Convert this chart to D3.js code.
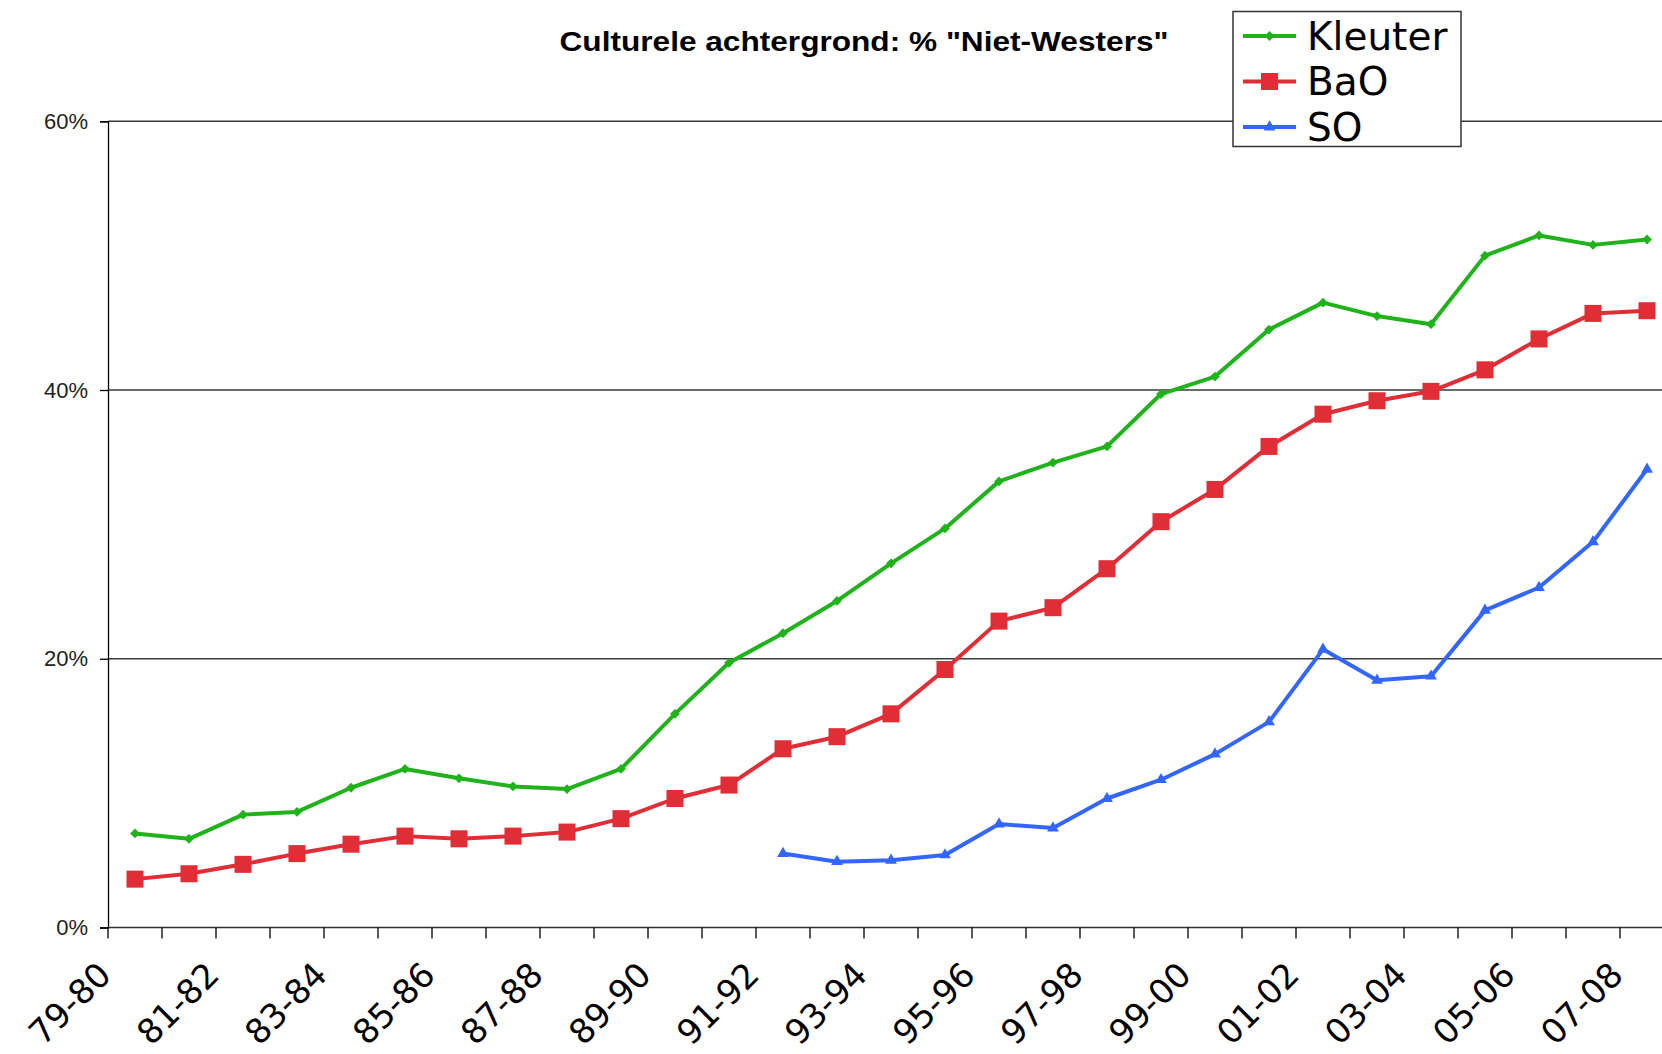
<!DOCTYPE html>
<html>
<head>
<meta charset="utf-8">
<script src="https://cdnjs.cloudflare.com/ajax/libs/d3/7.8.5/d3.min.js"></script>
<style>
  body { margin: 0; background: #fff; }
  svg { display: block; }
</style>
</head>
<body>
<div id="main"></div>
<script>
// school years on the x axis
const years = ["79-80","80-81","81-82","82-83","83-84","84-85","85-86","86-87","87-88","88-89",
  "89-90","90-91","91-92","92-93","93-94","94-95","95-96","96-97","97-98","98-99",
  "99-00","00-01","01-02","02-03","03-04","04-05","05-06","06-07","07-08"];

// % niet-westers per series (null = no data)
const kleuter = [7.0, 6.6, 8.4, 8.6, 10.4, 11.8, 11.1, 10.5, 10.3, 11.8,
  15.9, 19.7, 21.9, 24.3, 27.1, 29.7, 33.2, 34.6, 35.8, 39.7,
  41.0, 44.5, 46.5, 45.5, 44.9, 50.0, 51.5, 50.8, 51.2];
const bao = [3.6, 4.0, 4.7, 5.5, 6.2, 6.8, 6.6, 6.8, 7.1, 8.1,
  9.6, 10.6, 13.3, 14.2, 15.9, 19.2, 22.8, 23.8, 26.7, 30.2,
  32.6, 35.8, 38.2, 39.2, 39.9, 41.5, 43.8, 45.7, 45.9];
const so = [null, null, null, null, null, null, null, null, null, null,
  null, null, 5.5, 4.9, 5.0, 5.4, 7.7, 7.4, 9.6, 11.0,
  12.9, 15.3, 20.7, 18.4, 18.7, 23.6, 25.3, 28.7, 34.1];

const yTicks = [0, 20, 40, 60];
const title = 'Culturele achtergrond: % "Niet-Westers"';

const width = 1662;
const height = 1054;
const plotLeft = 108, plotTop = 121.25, plotBottom = 927.5;
const band = 54;

const svg = d3.select('#main').append('svg')
  .attr('width', width)
  .attr('height', height);

const xScale = d3.scaleBand().domain(years).range([plotLeft, plotLeft + band * years.length]);
const yScale = d3.scaleLinear().domain([0, 60]).range([plotBottom, plotTop]);
const cx = d => xScale(d) + xScale.bandwidth() / 2;

// gridlines
svg.append('g').selectAll('line').data(yTicks.filter(d => d > 0))
  .enter().append('line')
  .attr('x1', plotLeft).attr('x2', width)
  .attr('y1', d => yScale(d)).attr('y2', d => yScale(d))
  .attr('stroke', '#3a3a3a').attr('stroke-width', 1.3);

// y axis
const yAxis = d3.axisLeft(yScale).tickValues(yTicks).tickSize(8).tickFormat(d => d + '%');
const gy = svg.append('g').attr('transform', 'translate(' + plotLeft + ',0)').call(yAxis);
gy.select('.domain').attr('stroke', '#000').attr('stroke-width', 1.3);
gy.selectAll('.tick line').attr('stroke', '#000').attr('stroke-width', 1.3);
gy.selectAll('.tick text')
  .attr('x', -20)
  .style('font-family', '"Liberation Sans", Arial, sans-serif')
  .style('font-size', '22px')
  .attr('fill', '#222');

// x axis line and ticks between categories
svg.append('line')
  .attr('x1', plotLeft).attr('x2', width)
  .attr('y1', plotBottom).attr('y2', plotBottom)
  .attr('stroke', '#333').attr('stroke-width', 1.5);
svg.append('g').selectAll('line').data(years)
  .enter().append('line')
  .attr('x1', d => xScale(d)).attr('x2', d => xScale(d))
  .attr('y1', plotBottom).attr('y2', plotBottom + 11)
  .attr('stroke', '#000').attr('stroke-width', 1.3);

// rotated category labels, every other year
svg.append('g').selectAll('text').data(years.filter((d, i) => i % 2 === 0))
  .enter().append('text')
  .attr('transform', d => 'translate(' + (cx(d) - 22) + ',' + 977 + ') rotate(-45)')
  .attr('text-anchor', 'end')
  .style('font-family', '"DejaVu Sans", Verdana, sans-serif')
  .style('font-size', '34px')
  .attr('fill', '#000')
  .text(d => d);

// title
svg.append('text')
  .attr('x', 864).attr('y', 51)
  .attr('text-anchor', 'middle')
  .attr('textLength', 609)
  .attr('lengthAdjust', 'spacingAndGlyphs')
  .style('font-family', '"Liberation Sans", Arial, sans-serif')
  .style('font-weight', 'bold')
  .style('font-size', '28px')
  .text(title);

// series
const series = [
  {name: 'Kleuter', values: kleuter, color: '#1fb21a', symbol: d3.symbolSquare, size: 48, rot: 45},
  {name: 'BaO', values: bao, color: '#e02d36', symbol: d3.symbolSquare, size: 290, rot: 0},
  {name: 'SO', values: so, color: '#3366ff', symbol: d3.symbolTriangle, size: 60, rot: 0}
];

const line = d3.line()
  .defined(d => d.v !== null)
  .x(d => cx(d.year))
  .y(d => yScale(d.v));

series.forEach(s => {
  const pts = years.map((y, i) => ({year: y, v: s.values[i]}));
  svg.append('path')
    .datum(pts)
    .attr('d', line)
    .attr('fill', 'none')
    .attr('stroke', s.color)
    .attr('stroke-width', 4)
    .attr('stroke-linejoin', 'round');
  svg.append('g').selectAll('path').data(pts.filter(d => d.v !== null))
    .enter().append('path')
    .attr('d', d3.symbol().type(s.symbol).size(s.size))
    .attr('transform', d => 'translate(' + cx(d.year) + ',' + yScale(d.v) + ') rotate(' + s.rot + ')')
    .attr('fill', s.color);
});

// legend
const legend = svg.append('g');
legend.append('rect')
  .attr('x', 1233).attr('y', 11.5)
  .attr('width', 228).attr('height', 135)
  .attr('fill', '#fff')
  .attr('stroke', '#333').attr('stroke-width', 1.5);
const rowY = d3.scalePoint().domain(series.map(s => s.name)).range([36, 127]);
series.forEach(s => {
  const y = rowY(s.name);
  legend.append('line')
    .attr('x1', 1243).attr('x2', 1296)
    .attr('y1', y).attr('y2', y)
    .attr('stroke', s.color).attr('stroke-width', 4);
  legend.append('path')
    .attr('d', d3.symbol().type(s.symbol).size(s.size))
    .attr('transform', 'translate(1269.5,' + y + ') rotate(' + s.rot + ')')
    .attr('fill', s.color);
  legend.append('text')
    .attr('x', 1307).attr('y', y + 13.5)
    .style('font-family', '"DejaVu Sans", Verdana, sans-serif')
    .style('font-size', '39px')
    .text(s.name);
});
</script>
</body>
</html>
